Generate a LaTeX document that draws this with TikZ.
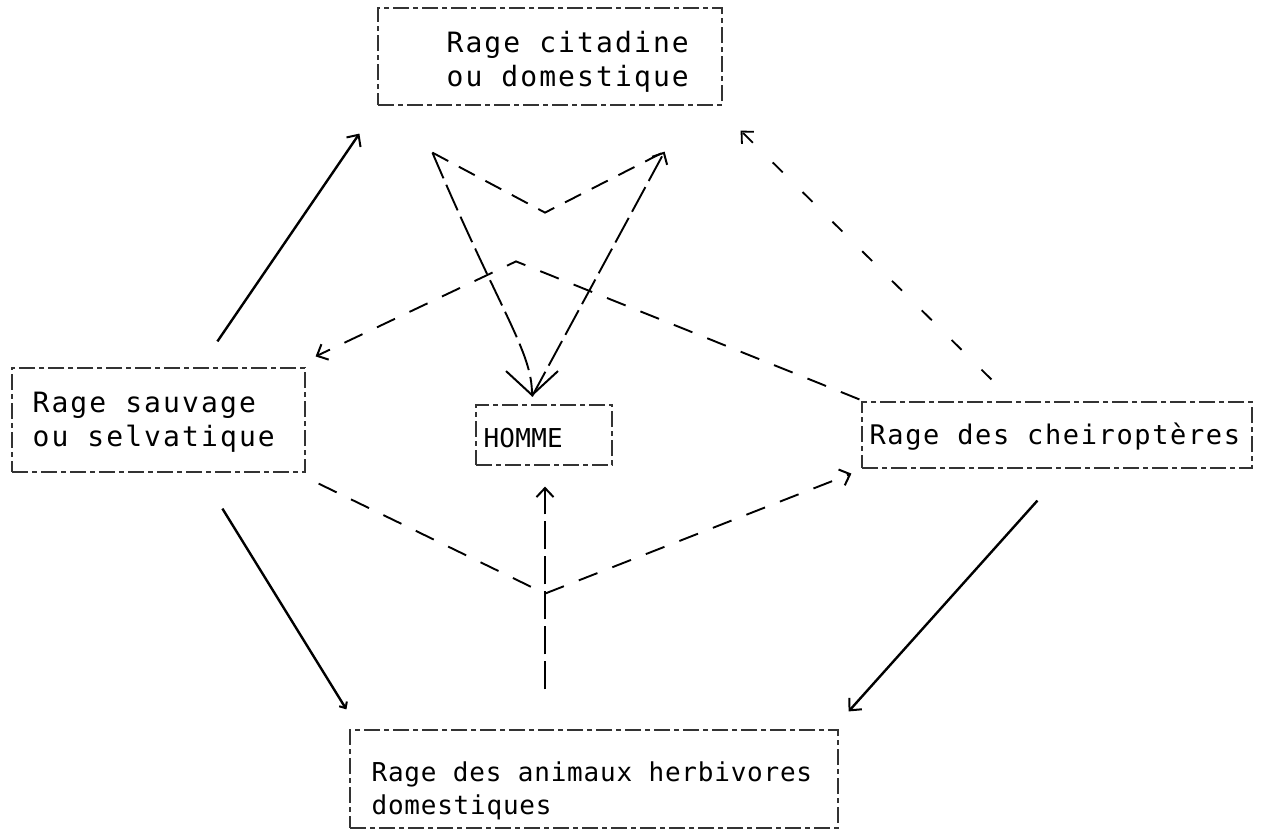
\documentclass[tikz,border=0pt]{standalone}
\usepackage{fontspec}
\usetikzlibrary{arrows.meta,calc}
\newfontfamily\twA[LetterSpace=7.5]{DejaVu Sans Mono}
\newfontfamily\twR[LetterSpace=6]{DejaVu Sans Mono}
\newfontfamily\twB[LetterSpace=3]{DejaVu Sans Mono}
\newfontfamily\twH[LetterSpace=1]{DejaVu Sans Mono}
\tikzset{
  box/.style={draw=black!80, line width=1.2pt, dash pattern=on 16pt off 4pt on 5pt off 4pt, inner sep=0pt},
  txt/.style={anchor=west, align=left, inner sep=0pt},
  fa/.style={font=\twA\fontsize{28}{34}\selectfont},
  fr/.style={font=\twR\fontsize{27}{33}\selectfont},
  fb/.style={font=\twB\fontsize{26}{33}\selectfont},
  fh/.style={font=\twH\fontsize{26}{32}\selectfont},
  barb/.tip={Straight Barb[length=9pt,width=17pt,line width=2pt]},
  solidarrow/.style={line width=2.4pt, -barb},
  dashline/.style={line width=1.9pt, dash pattern=on 20pt off 16pt},
  densedash/.style={line width=1.9pt, dash pattern=on 28pt off 7pt},
  sparsedash/.style={line width=1.8pt, dash pattern=on 14pt off 28pt},
}
\begin{document}
\begin{tikzpicture}[x=1pt,y=-1pt]
\useasboundingbox (0,0) rectangle (1263,833);
% boxes
\node[box, minimum width=344pt, minimum height=97pt] (T) at (550,56.5) {};
\node[box, minimum width=293pt, minimum height=104pt] (L) at (158.5,420) {};
\node[box, minimum width=136pt, minimum height=60pt] (H) at (544,435) {};
\node[box, minimum width=390pt, minimum height=66pt] (R) at (1057,435) {};
\node[box, minimum width=488pt, minimum height=98pt] (B) at (594,779) {};
% texts
\node[txt, fa] (Tt) at ([xshift=69pt,yshift=-5pt]T.west) {Rage citadine\\ou domestique};
\node[txt, fa] (Lt) at ([xshift=21pt,yshift=-2pt]L.west) {Rage sauvage\\ou selvatique};
\node[txt, fh] (Ht) at ([xshift=8pt,yshift=-3pt]H.west) {HOMME};
\node[txt, fr] (Rt) at ([xshift=8pt,yshift=-2pt]R.west) {Rage des cheiroptères};
\node[txt, fb] (Bt) at ([xshift=22pt,yshift=-12pt]B.west) {Rage des animaux herbivores\\domestiques};
% named end points near HOMME and the top box
\coordinate (Htip) at ($(H.north)+(-12,-8)$);
\coordinate (TL) at ($(T.south west)+(55,47)$);
\coordinate (TR) at ($(T.south east)+(-58,46)$);
% solid connectors
\draw[solidarrow] ($(L.north west)+(206,-26)$) -- ($(T.south west)+(-18,28)$);
\draw[line width=2.4pt, -{Straight Barb[length=5pt,width=9pt,line width=2pt]}] ($(L.south west)+(211,36)$) -- ($(B.north west)+(-3,-20)$);
\draw[solidarrow] ($(R.south west)+(176,32)$) -- ($(B.north east)+(10,-18)$);
% dashed connectors
\draw[sparsedash, -{Straight Barb[length=9pt,width=17pt,line width=1.8pt]}] ($(R.north west)+(130,-22)$) -- ($(T.south east)+(18,25)$);
\draw[dashline, dash pattern=on 18pt off 12pt] (TL) -- ($(T.south)+(-5,107)$) -- (TR);
\draw[densedash, -{Straight Barb[length=24pt,width=52pt,line width=2pt]}] (TL) .. controls ($(TL)+(68,160)$) and ($(Htip)+(0,-45)$) .. (Htip);
\draw[densedash, -barb] (Htip) -- (TR);
\draw[dashline, -barb] ($(R.north west)+(-2,-2)$) -- ($(H.north)+(-28,-143)$) -- ($(L.north east)+(10,-11)$);
\draw[dashline, -barb] ($(L.south east)+(13,11)$) -- ($(H.south)+(1,128)$) -- ($(R.south west)+(-10,5)$);
\draw[densedash, -barb] ($(B.north)+(-49,-40)$) -- ($(H.south)+(1,21)$);
\end{tikzpicture}
\end{document}
